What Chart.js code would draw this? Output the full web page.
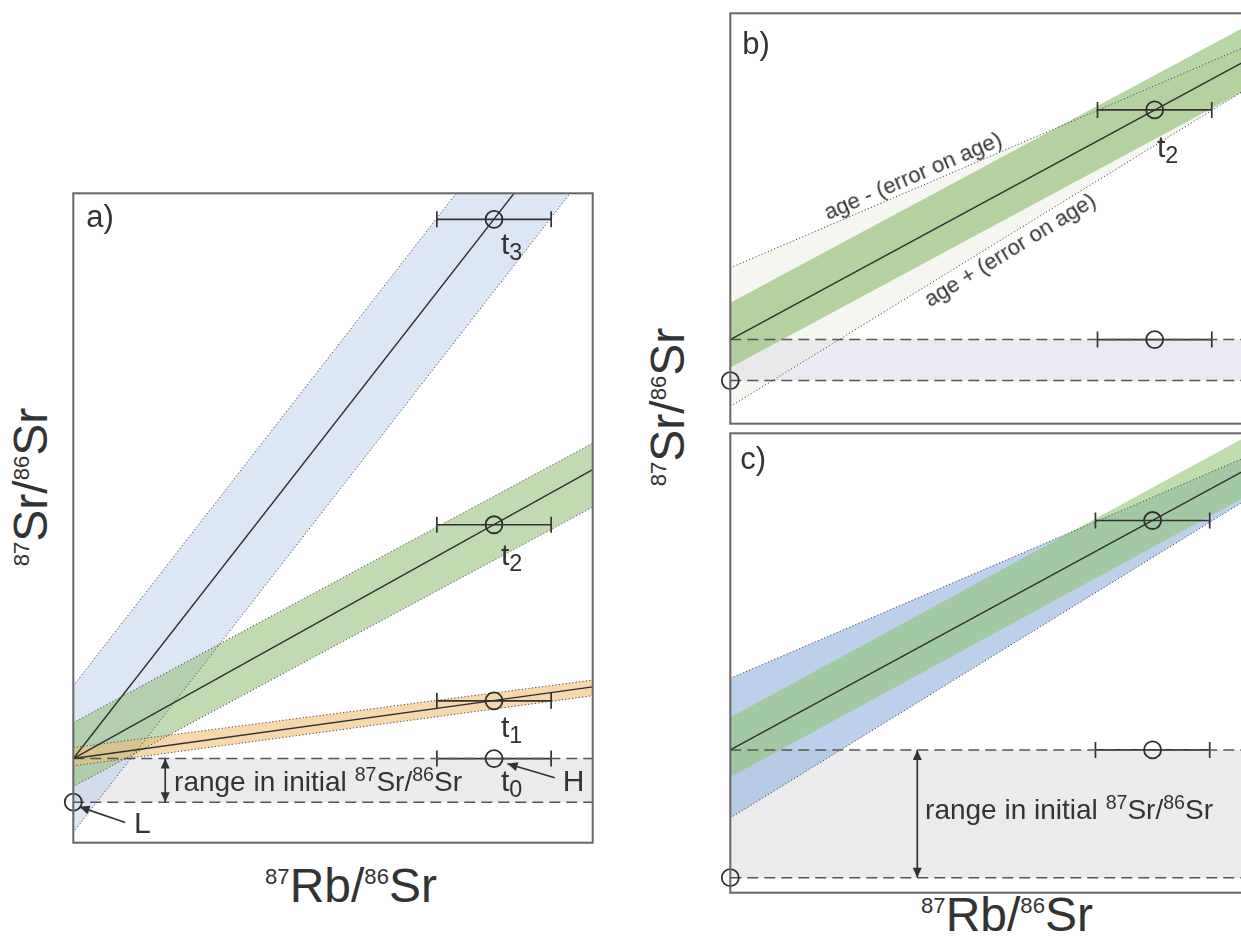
<!DOCTYPE html>
<html>
<head>
<meta charset="utf-8">
<script src="https://cdn.jsdelivr.net/npm/chart.js@4.4.1/dist/chart.umd.min.js"></script>
<style>
html,body{margin:0;padding:0;background:#fff;overflow:hidden;width:1241px;height:944px;}
body{position:relative;font-family:"Liberation Sans",Arial,Helvetica,sans-serif;color:#333;}
.panel{position:absolute;}
.panel canvas{position:absolute;left:0;top:0;}
.lbl{position:absolute;white-space:nowrap;line-height:1;}
.title{position:absolute;white-space:nowrap;line-height:1;font-size:48px;color:#333;}
.sup{font-size:0.46em;position:relative;top:-0.82em;}
.rsup{font-size:0.7em;position:relative;top:-0.5em;}
.sub{font-size:0.78em;position:relative;top:0.25em;}
</style>
</head>
<body>
<div class="title" style="left:351px;top:862px;transform:translateX(-50%);"><span class="sup">87</span>Rb/<span class="sup">86</span>Sr</div>
<div class="title" style="left:1007px;top:891px;transform:translateX(-50%);"><span class="sup">87</span>Rb/<span class="sup">86</span>Sr</div>
<div class="title" style="left:31px;top:487px;transform:translate(-50%,-50%) rotate(-90deg);"><span class="sup">87</span>Sr/<span class="sup">86</span>Sr</div>
<div class="title" style="left:668px;top:407px;transform:translate(-50%,-50%) rotate(-90deg);"><span class="sup">87</span>Sr/<span class="sup">86</span>Sr</div>

<div class="panel" id="pa" style="left:63px;top:183px;width:540px;height:670px;"><canvas id="ca" width="540" height="670"></canvas></div>
<div class="panel" id="pb" style="left:720px;top:3px;width:540px;height:431px;"><canvas id="cb" width="540" height="431"></canvas></div>
<div class="panel" id="pc" style="left:720px;top:423px;width:540px;height:480px;"><canvas id="cc" width="540" height="480"></canvas></div>

<script>
// ---------------- DATA (schematic units: x = 87Rb/86Sr, y = 87Sr/86Sr) ----------------
const X_ENDS = [0, 10];                 // every isochron is given by its y at x = 0 and x = 10

// Panel a
const aRange     = [1.62, 0.78];         // highest (H) and lowest (L) initial 87Sr/86Sr
const aPointX    = [8.1, 8.1, 8.1, 8.1];
const aPointY    = [1.62, 2.73, 6.12, 12.0];   // t0, t1, t2, t3
const aAges      = ['0', '1', '2', '3'];
const aXErr      = 1.1;
const aOrangeUp  = [1.83, 3.13], aOrangeMid = [1.62, 3.00], aOrangeLo = [1.48, 2.83];
const aGreenUp   = [2.31, 7.69], aGreenMid  = [1.62, 7.18], aGreenLo  = [1.08, 6.46];
const aBlueUp    = [3.02, 15.88], aBlueMid  = [1.62, 14.44], aBlueLo  = [0.20, 13.06];

// Panel b
const bRange     = [1.62, 0.83];
const bPointX    = [8.17, 8.17];
const bPointY    = [6.04, 1.62];         // t2 and t0
const bXErr      = 1.1;
const bGreenUp   = [2.33, 7.69], bGreenMid = [1.62, 7.03], bGreenLo = [1.08, 6.46];
const bAgeMinus  = [3.00, 7.29];         // age - (error on age)
const bAgePlus   = [0.33, 6.48];         // age + (error on age)

// Panel c
const cRange     = [2.75, 0.29];
const cPointX    = [8.13, 8.13];
const cPointY    = [7.17, 2.75];
const cXErr      = 1.1;
const cGreenUp   = [3.38, 8.82], cGreenMid = [2.75, 8.19], cGreenLo = [2.23, 7.67];
const cBlueUp    = [4.13, 8.42], cBlueLo   = [1.44, 7.61];

// ---------------- helpers ----------------
const DOT  = {borderColor:'#4a4a4a', borderWidth:1, borderDash:[1.2, 2.2]};
const DASH = {borderColor:'#555', borderWidth:1.5, borderDash:[11, 6]};
const MID  = {borderColor:'#2e2e2e', borderWidth:1.4};
const NOB  = {borderWidth:0};

function line(ys, opts) {
  return Object.assign({
    data: X_ENDS.map((x, i) => ({x: x, y: ys[i]})),
    borderColor:'#333', borderWidth:1.3, pointRadius:0, fill:false, tension:0, clip:0
  }, opts || {});
}
function level(v, opts) { return line([v, v], opts); }
function circles(xs, ys) {
  return {
    data: xs.map((x, i) => ({x: x, y: ys[i]})), showLine:false,
    pointRadius:8.5, pointStyle:'circle', pointBorderColor:'#2e2e2e',
    pointBackgroundColor:'rgba(0,0,0,0)', pointBorderWidth:1.8, clip:false
  };
}

function drawArrow(ctx, x1, y1, x2, y2, both) {
  const hl = 10, hw = 4.5;
  function head(xa, ya, xb, yb) {
    const a = Math.atan2(yb - ya, xb - xa);
    const bx = xb - hl * Math.cos(a), by = yb - hl * Math.sin(a);
    ctx.beginPath();
    ctx.moveTo(xb, yb);
    ctx.lineTo(bx + hw * Math.sin(a), by - hw * Math.cos(a));
    ctx.lineTo(bx - hw * Math.sin(a), by + hw * Math.cos(a));
    ctx.closePath(); ctx.fill();
  }
  ctx.beginPath(); ctx.moveTo(x1, y1); ctx.lineTo(x2, y2); ctx.stroke();
  head(x1, y1, x2, y2);
  if (both) head(x2, y2, x1, y1);
}

function makePanel(cfg) {
  const host = document.getElementById(cfg.host);
  cfg.labels.forEach(l => {
    const el = document.createElement('div');
    el.className = 'lbl';
    el.style.fontSize = l.size + 'px';
    el.innerHTML = l.html;
    host.appendChild(el);
    l.el = el;
  });
  const overlay = {
    id: 'overlay',
    beforeDatasetsDraw(chart) {
      const ctx = chart.ctx, xs = chart.scales.x, ys = chart.scales.y;
      ctx.save();
      ctx.strokeStyle = '#333'; ctx.lineWidth = 1.7; ctx.setLineDash([]);
      cfg.errs.forEach(e => {
        const x1 = xs.getPixelForValue(e.x - e.err), x2 = xs.getPixelForValue(e.x + e.err);
        const py = ys.getPixelForValue(e.y);
        ctx.beginPath();
        ctx.moveTo(x1, py); ctx.lineTo(x2, py);
        ctx.moveTo(x1, py - 8); ctx.lineTo(x1, py + 8);
        ctx.moveTo(x2, py - 8); ctx.lineTo(x2, py + 8);
        ctx.stroke();
      });
      ctx.restore();
    },
    afterDatasetsDraw(chart) {
      const ctx = chart.ctx, xs = chart.scales.x, ys = chart.scales.y;
      ctx.save();
      ctx.strokeStyle = '#333'; ctx.fillStyle = '#333'; ctx.lineWidth = 1.7; ctx.setLineDash([]);
      cfg.arrows.forEach(a => {
        drawArrow(ctx, xs.getPixelForValue(a.x1), ys.getPixelForValue(a.y1),
                       xs.getPixelForValue(a.x2), ys.getPixelForValue(a.y2), a.both);
      });
      const ca = chart.chartArea;
      ctx.strokeStyle = '#666'; ctx.lineWidth = 2;
      ctx.strokeRect(ca.left, ca.top, ca.right - ca.left, ca.bottom - ca.top);
      ctx.restore();
    },
    afterDraw(chart) {
      const xs = chart.scales.x, ys = chart.scales.y;
      cfg.labels.forEach(l => {
        const px = xs.getPixelForValue(l.x), py = ys.getPixelForValue(l.y);
        let rot = 0;
        if (l.along) {
          const x0 = xs.getPixelForValue(X_ENDS[0]), y0 = ys.getPixelForValue(l.along[0]);
          const x1 = xs.getPixelForValue(X_ENDS[1]), y1 = ys.getPixelForValue(l.along[1]);
          rot = Math.atan2(y1 - y0, x1 - x0) * 180 / Math.PI;
        }
        l.el.style.left = px + 'px';
        l.el.style.top = py + 'px';
        l.el.style.transform = (l.left ? 'translate(0,-50%)' : 'translate(-50%,-50%)') + ' rotate(' + rot + 'deg)';
      });
    }
  };
  return new Chart(document.getElementById(cfg.canvas), {
    type: 'line',
    data: {datasets: cfg.datasets},
    options: {
      responsive:false, animation:false, devicePixelRatio:1, events:[],
      layout:{padding:10},
      scales:{
        x:{type:'linear', min:0, max:10, display:false},
        y:{type:'linear', min:0, max:cfg.yMax, display:false}
      },
      plugins:{legend:{display:false}, tooltip:{enabled:false},
               filler:{drawTime:'beforeDatasetsDraw', propagate:false}}
    },
    plugins:[overlay]
  });
}

const RANGE_HTML = 'range in initial <span class="rsup">87</span>Sr/<span class="rsup">86</span>Sr';

// ---------------- Panel a ----------------
makePanel({
  host:'pa', canvas:'ca', yMax:12.5,
  datasets:[
    circles(aPointX, aPointY),
    circles([X_ENDS[0]], [aRange[1]]),
    line(aOrangeMid, MID), line(aGreenMid, MID), line(aBlueMid, MID),
    line(aOrangeUp, Object.assign({}, DOT, {fill:'+1', backgroundColor:'rgba(242,190,118,0.6)'})), line(aOrangeLo, DOT),
    line(aGreenUp,  Object.assign({}, DOT, {fill:'+1', backgroundColor:'rgba(150,192,122,0.58)'})), line(aGreenLo, DOT),
    line(aBlueUp,   Object.assign({}, DOT, {fill:'+1', backgroundColor:'rgba(185,205,235,0.5)'})), line(aBlueLo, DOT),
    level(aRange[0], Object.assign({}, DASH, {fill:'+1', backgroundColor:'rgba(222,222,226,0.6)'})), level(aRange[1], DASH)
  ],
  errs: aPointX.map((x, i) => ({x:x, y:aPointY[i], err:aXErr})),
  arrows:[
    {x1:1.77, y1:aRange[0], x2:1.77, y2:aRange[1], both:true},
    {x1:9.27, y1:1.25, x2:8.36, y2:1.52},
    {x1:1.0, y1:0.39, x2:0.12, y2:0.69}
  ],
  labels:[
    {html:'a)', x:0.25, y:12.06, size:31, left:true},
    {html:'t<span class="sub">' + aAges[3] + '</span>', x:8.44, y:11.52, size:30},
    {html:'t<span class="sub">' + aAges[2] + '</span>', x:8.44, y:5.54, size:30},
    {html:'t<span class="sub">' + aAges[1] + '</span>', x:8.44, y:2.23, size:30},
    {html:'t<span class="sub">' + aAges[0] + '</span>', x:8.44, y:1.19, size:30},
    {html:'H', x:9.63, y:1.19, size:30},
    {html:'L', x:1.33, y:0.37, size:30},
    {html:RANGE_HTML, x:1.94, y:1.17, size:28, left:true}
  ]
});

// ---------------- Panel b ----------------
makePanel({
  host:'pb', canvas:'cb', yMax:7.9,
  datasets:[
    circles(bPointX, bPointY),
    circles([X_ENDS[0]], [bRange[1]]),
    line(bGreenMid, MID),
    line(bAgeMinus, DOT), line(bAgePlus, DOT),
    line(bGreenUp, Object.assign({}, NOB, {fill:'+1', backgroundColor:'rgba(140,188,110,0.62)'})), line(bGreenLo, NOB),
    line(bAgeMinus, Object.assign({}, NOB, {fill:'+1', backgroundColor:'rgba(226,228,212,0.35)'})), line(bAgePlus, NOB),
    level(bRange[0], Object.assign({}, DASH, {fill:'+1', backgroundColor:'rgba(220,220,234,0.6)'})), level(bRange[1], DASH)
  ],
  errs: bPointX.map((x, i) => ({x:x, y:bPointY[i], err:bXErr})),
  arrows:[],
  labels:[
    {html:'b)', x:0.23, y:7.32, size:31, left:true},
    {html:'t<span class="sub">2</span>', x:8.42, y:5.32, size:30},
    {html:'age - (error on age)', x:3.52, y:4.77, size:22, along:bAgeMinus},
    {html:'age + (error on age)', x:5.38, y:3.35, size:22, along:bAgePlus}
  ]
});

// ---------------- Panel c ----------------
makePanel({
  host:'pc', canvas:'cc', yMax:8.85,
  datasets:[
    circles(cPointX, cPointY),
    circles([X_ENDS[0]], [cRange[1]]),
    line(cGreenMid, MID),
    line(cGreenUp, Object.assign({}, NOB, {fill:'+1', backgroundColor:'rgba(145,195,112,0.58)'})), line(cGreenLo, NOB),
    line(cBlueUp, Object.assign({}, DOT, {fill:'+1', backgroundColor:'rgba(160,188,228,0.7)'})), line(cBlueLo, DOT),
    level(cRange[0], Object.assign({}, DASH, {fill:'+1', backgroundColor:'rgba(222,222,226,0.6)'})), level(cRange[1], DASH)
  ],
  errs: cPointX.map((x, i) => ({x:x, y:cPointY[i], err:cXErr})),
  arrows:[
    {x1:3.6, y1:cRange[0], x2:3.6, y2:cRange[1], both:true}
  ],
  labels:[
    {html:'c)', x:0.19, y:8.37, size:31, left:true},
    {html:RANGE_HTML, x:3.75, y:1.6, size:28, left:true}
  ]
});
</script>
</body>
</html>
